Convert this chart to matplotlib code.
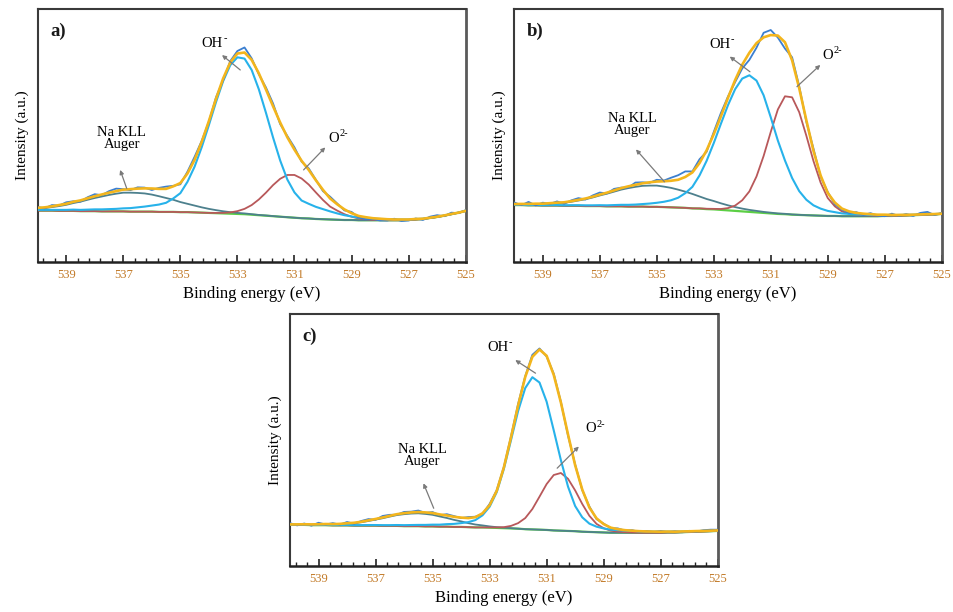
import numpy as np
import matplotlib
matplotlib.use("Agg")
import matplotlib.pyplot as plt
from matplotlib.ticker import FixedLocator

plt.rcParams['font.family'] = ['Liberation Serif', 'DejaVu Serif']
plt.rcParams['mathtext.fontset'] = 'stix'

# ---------------- data (binding energy grid, eV; intensities in a.u.) ----------------
energy = np.linspace(540.0, 525.0, 61)
major_ticks = [539, 537, 535, 533, 531, 529, 527, 525]
tick_labels = ["539", "537", "535", "533", "531", "529", "527", "525"]

# panel a
bg_a = [20.3, 20.3, 20.3, 20.2, 20.2, 20.2, 20.1, 20.1, 20.1, 20.0, 20.0, 20.0, 20.0,
        19.9, 19.9, 19.9, 19.9, 19.8, 19.8, 19.8, 19.7, 19.7, 19.6, 19.5, 19.4,
        19.3, 19.2, 19.1, 19.0, 18.9, 18.7, 18.5, 18.3, 18.1, 17.9, 17.7, 17.5,
        17.3, 17.2, 17.0, 16.9, 16.8, 16.7, 16.6, 16.6, 16.5, 16.5, 16.5, 16.5,
        16.5, 16.5, 16.5, 16.6, 16.8, 17.0, 17.4, 17.8, 18.3, 18.9, 19.5, 20.2]
na_a = [0.8, 1.0, 1.4, 1.9, 2.4, 3.1, 3.75, 4.5, 5.2, 5.9, 6.5, 7.0, 7.4,
        7.5, 7.4, 7.2, 6.75, 6.2, 5.5, 4.8, 4.0, 3.3, 2.7, 2.1, 1.6,
        1.2, 0.85, 0.6, 0.4, 0.3, 0.2, 0.1, 0.1, 0.05] + [0.0] * 27
oh_a = [0.3, 0.3, 0.3, 0.4, 0.4, 0.5, 0.5, 0.6, 0.7, 0.8, 0.9, 1.0, 1.2,
        1.4, 1.7, 2.0, 2.4, 2.9, 3.6, 5.3, 7.5, 12.0, 18.1, 25.9, 34.7,
        43.9, 52.3, 58.7, 61.9, 61.5, 57.2, 49.8, 40.7, 31.1, 22.2, 14.9, 10.0,
        7.0, 5.8, 4.8, 4.0, 3.2, 2.5, 1.9, 1.4, 1.0, 0.8, 0.6, 0.5,
        0.4, 0.3, 0.3, 0.2, 0.2, 0.1, 0.1, 0.1, 0.1, 0.1, 0.0, 0.0]
o2_a = [0.0] * 25 + [0.1, 0.2, 0.5, 1.1, 2.1, 3.8, 6.2, 9.1, 12.3, 15.0, 16.7, 16.9,
                     15.7, 13.4, 10.5, 7.6, 5.1, 3.6, 2.3, 1.3, 0.7, 0.4, 0.2, 0.1] + [0.0] * 12
raw_dev_a = [0.3, -0.4, 0.5, -0.2, 0.6, 0.2, -0.5, 0.4, 0.8, -0.3,
             0.6, 1.0, 0.2, -0.4, 0.5, 0.3, -0.6, 0.4, 0.9, 0.2,
             -0.5, 0.7, 1.2, 0.4, -0.3, 0.6, -0.8, 0.5, 1.0, 2.0,
             0.6, -0.4, 0.8, 1.1, -0.6, 0.5, 0.9, -0.3, 0.6, 0.2,
             -0.5, 0.7, 0.3, -0.4, 0.5, -0.6, -0.8, -0.3, -0.7, -0.5,
             0.3, -0.6, -0.4, 0.2, -0.5, 0.4, 0.6, -0.3, 0.5, -0.2, 0.3]

# panel b
bg_b = [22.5, 22.5, 22.4, 22.4, 22.3, 22.3, 22.3, 22.2, 22.2, 22.2, 22.1, 22.1, 22.1,
        22.0, 22.0, 22.0, 21.9, 21.9, 21.9, 21.8, 21.8, 21.7, 21.6, 21.5, 21.4,
        21.2, 21.1, 20.9, 20.8, 20.6, 20.4, 20.2, 20.0, 19.8, 19.6, 19.4, 19.2,
        19.0, 18.9, 18.7, 18.6, 18.5, 18.4, 18.3, 18.2, 18.2, 18.1, 18.1, 18.1,
        18.1, 18.1, 18.1, 18.2, 18.2, 18.3, 18.4, 18.5, 18.6, 18.7, 18.8, 19.0]
na_b = [0.3, 0.35, 0.45, 0.5, 0.6, 0.75, 0.95, 1.2, 1.6, 2.1, 2.7, 3.4, 4.2,
        5.0, 5.8, 6.6, 7.3, 7.8, 8.2, 8.4, 8.4, 8.1, 7.7, 7.1, 6.4,
        5.7, 4.8, 4.0, 3.3, 2.6, 2.0, 1.5, 1.1, 0.8, 0.6, 0.4, 0.3,
        0.2, 0.15, 0.1, 0.05] + [0.0] * 20
oh_b = [0.1, 0.1, 0.1, 0.15, 0.15, 0.2, 0.2, 0.2, 0.25, 0.25, 0.3, 0.3, 0.35,
        0.4, 0.5, 0.6, 0.7, 0.8, 1.0, 1.3, 1.6, 2.1, 2.8, 3.9, 5.8,
        8.5, 13.1, 19.1, 26.2, 34.0, 41.6, 48.1, 52.5, 54.0, 52.1, 46.5, 38.0,
        29.0, 21.2, 14.5, 9.4, 6.1, 4.0, 2.8, 2.0, 1.5, 1.1, 0.9, 0.7,
        0.6, 0.5, 0.4, 0.35, 0.3, 0.3, 0.25, 0.2, 0.2, 0.2, 0.15, 0.1]
o2_b = [0.0] * 26 + [0.1, 0.15, 0.2, 0.35, 0.9, 2.1, 4.4, 8.1, 14.2, 22.5, 32.2,
                     41.3, 46.6, 46.4, 40.6, 31.4, 21.5, 13.1, 7.1, 3.8, 1.9, 1.0, 0.6,
                     0.4, 0.3, 0.2, 0.15, 0.1] + [0.0] * 7
raw_dev_b = [0.6, -0.5, 0.8, -0.7, 0.4, -0.3, 0.5, -0.6, 0.3, 0.7,
             -0.4, 0.5, 0.8, -0.3, 0.6, 0.2, -0.5, 0.9, 0.4, -0.2,
             0.7, 0.3, 1.2, 1.8, 2.2, 0.4, 1.5, -0.6, 0.9, 1.3,
             0.5, -0.8, -1.5, -2.8, -1.8, 1.8, 2.0, -0.8, -2.5, 1.2,
             0.8, -0.6, 0.9, -0.5, 0.4, -0.7, -0.4, -0.6, 0.3, -0.5,
             0.4, -0.3, -0.6, 0.5, -0.4, 0.3, -0.5, 0.6, 0.9, -0.4, 0.3]

# panel c
bg_c = [16.3, 16.3, 16.3, 16.2, 16.2, 16.2, 16.1, 16.1, 16.1, 16.0, 16.0, 16.0, 16.0,
        15.9, 15.9, 15.9, 15.8, 15.8, 15.8, 15.7, 15.7, 15.6, 15.6, 15.5, 15.5,
        15.4, 15.3, 15.3, 15.2, 15.1, 15.0, 14.9, 14.8, 14.6, 14.5, 14.4, 14.3,
        14.1, 14.0, 13.9, 13.8, 13.6, 13.5, 13.4, 13.3, 13.2, 13.2, 13.2, 13.2,
        13.2, 13.2, 13.2, 13.2, 13.3, 13.3, 13.4, 13.5, 13.6, 13.7, 13.8, 13.9]
na_c = [0.1, 0.1, 0.15, 0.2, 0.25, 0.3, 0.35, 0.45, 0.65, 0.95, 1.35, 1.85, 2.4,
        3.05, 3.7, 4.3, 4.75, 5.0, 5.1, 4.95, 4.6, 4.05, 3.45, 2.8, 2.2,
        1.6, 1.15, 0.8, 0.5, 0.3, 0.2, 0.1] + [0.0] * 29
oh_c = [0.1, 0.1, 0.1, 0.1, 0.1, 0.15, 0.15, 0.15, 0.2, 0.2, 0.2, 0.25, 0.25,
        0.3, 0.3, 0.35, 0.4, 0.45, 0.5, 0.6, 0.7, 0.8, 1.0, 1.2, 1.5,
        2.0, 2.9, 4.8, 8.3, 14.2, 23.5, 35.0, 46.7, 56.0, 60.4, 58.4, 50.9,
        39.7, 28.0, 17.6, 10.0, 5.7, 3.3, 2.2, 1.6, 1.2, 1.0, 0.8, 0.7,
        0.6, 0.5, 0.45, 0.4, 0.35, 0.3, 0.3, 0.25, 0.25, 0.2, 0.2, 0.2]
o2_c = [0.0] * 28 + [0.1, 0.2, 0.4, 1.0, 2.2, 4.4, 8.1, 13.1, 18.2,
                     22.0, 22.9, 20.7, 16.2, 11.0, 6.4, 3.3, 1.7, 0.8, 0.4, 0.2, 0.1] + [0.0] * 12
raw_dev_c = [0.5, -0.4, 0.3, -0.5, 0.6, -0.2, 0.4, -0.3, 0.5, -0.4,
             0.3, 0.5, -0.3, 0.6, 0.4, -0.2, 0.5, 0.3, 0.6, -0.2,
             0.4, -0.3, 0.5, 0.3, -0.2, 0.4, 0.2, -0.3, 0.5, 0.3,
             0.2, 0.4, 0.6, 0.3, 0.8, 0.4, -0.3, 0.5, 0.2, -0.4,
             0.3, -0.2, 0.4, -0.3, 0.2, -0.2, 0.3, -0.2, 0.2, -0.3,
             0.2, -0.2, 0.3, -0.2, 0.2, -0.3, 0.2, -0.2, 0.3, 0.4, 0.3]

panel_labels = ["a)", "b)", "c)"]
# annotation anchors: text left/centre, arrow tail (on curve), arrow head (near text)
ann_a = {"oh": ((534.25, 86.2), (532.9, 75.9), (533.54, 81.8)),
         "o2": ((529.8, 49.0), (530.68, 36.4), (529.92, 45.3)),
         "na": ((537.05, 48.8), (536.88, 29.1), (537.11, 36.4))}
ann_b = {"oh": ((533.17, 86.1), (531.73, 75.2), (532.44, 81.2)),
         "o2": ((529.2, 81.5), (530.08, 69.3), (529.26, 77.9)),
         "na": ((535.87, 54.3), (534.73, 31.7), (535.73, 44.5))}
ann_c = {"oh": ((533.09, 86.8), (531.39, 76.5), (532.10, 81.7)),
         "o2": ((529.64, 54.4), (530.63, 38.8), (529.87, 47.4)),
         "na": ((535.36, 43.9), (534.96, 22.9), (535.32, 32.8))}

# ---------------- styling ----------------
C_RAW = '#3b7fd0'
C_ENV = '#f3b51c'
C_OH = '#27b2ea'
C_O2 = '#b8585a'
C_NA = '#4d808d'
C_BG = '#5ccf45'
C_TICK = '#c27a28'
C_FRAME = '#3a3a3a'
FS_ANN = 10.5

fig = plt.figure(figsize=(9.54, 6.12), dpi=100)
positions = [[0.0395, 0.5719, 0.4486, 0.4134],
             [0.5391, 0.5719, 0.4480, 0.4134],
             [0.3040, 0.0752, 0.4483, 0.4118]]

datasets = [(bg_a, na_a, oh_a, o2_a, raw_dev_a, ann_a),
            (bg_b, na_b, oh_b, o2_b, raw_dev_b, ann_b),
            (bg_c, na_c, oh_c, o2_c, raw_dev_c, ann_c)]


def label_with_sup(ax, xy, base, sup, base_width_pt):
    ax.text(xy[0], xy[1], base, fontsize=FS_ANN, ha='left', va='center', zorder=8)
    ax.annotate(sup, xy=xy, xycoords='data', xytext=(base_width_pt + 0.4, 3.5),
                textcoords='offset points', fontsize=7.5, ha='left', va='center',
                zorder=8)


for pos, (bg, na, oh, o2, dev, ann), lab in zip(positions, datasets, panel_labels):
    ax = fig.add_axes(pos)
    bg = np.array(bg)
    na = np.array(na)
    oh = np.array(oh)
    o2 = np.array(o2)
    envelope = bg + na + oh + o2
    raw = envelope + np.array(dev)

    ax.plot(energy, bg, color=C_BG, lw=1.6, zorder=2)
    ax.plot(energy, bg + na, color=C_NA, lw=1.3, zorder=3)
    ax.plot(energy, bg + o2, color=C_O2, lw=1.3, zorder=3)
    ax.plot(energy, bg + oh, color=C_OH, lw=1.5, zorder=4)
    ax.plot(energy, raw, color=C_RAW, lw=1.3, zorder=5)
    ax.plot(energy, envelope, color=C_ENV, lw=1.9, zorder=6)

    ax.set_xlim(540, 525)
    ax.set_ylim(0, 100)
    ax.xaxis.set_major_locator(FixedLocator(major_ticks))
    ax.set_xticklabels(tick_labels)
    ax.xaxis.set_minor_locator(FixedLocator(np.arange(525.0, 540.01, 0.4)))
    ax.tick_params(axis='x', which='major', direction='in', length=5, width=1.2,
                   color='#222222', labelsize=9, labelcolor=C_TICK, pad=5)
    ax.tick_params(axis='x', which='minor', direction='in', length=3, width=1.0,
                   color='#222222')
    ax.set_yticks([])
    for side in ['left', 'top']:
        ax.spines[side].set_color(C_FRAME)
        ax.spines[side].set_linewidth(1.5)
    ax.spines['right'].set_color('#5a5a5a')
    ax.spines['right'].set_linewidth(2.0)
    ax.spines['bottom'].set_color('#222222')
    ax.spines['bottom'].set_linewidth(1.8)

    ax.set_xlabel('Binding energy (eV)', fontsize=12, labelpad=4)
    ax.set_ylabel('Intensity (a.u.)', fontsize=11, labelpad=6)

    ax.text(0.03, 0.945, lab, transform=ax.transAxes, fontsize=13.5,
            fontweight='bold', va='top', ha='left', color='#1a1a1a')

    aprops = dict(arrowstyle='-|>', color='#7a7a7a', lw=0.9,
                  mutation_scale=6, shrinkA=0, shrinkB=0)
    (txy, tail, head) = ann['oh']
    label_with_sup(ax, txy, 'OH', '-', 1.444 * FS_ANN)
    ax.annotate('', xy=head, xytext=tail, arrowprops=aprops, zorder=8)
    (txy, tail, head) = ann['o2']
    label_with_sup(ax, txy, 'O', '2-', 0.722 * FS_ANN)
    ax.annotate('', xy=head, xytext=tail, arrowprops=aprops, zorder=8)
    (txy, tail, head) = ann['na']
    ax.text(txy[0], txy[1], 'Na KLL\nAuger', fontsize=FS_ANN, ha='center', va='center',
            linespacing=0.95, zorder=8)
    ax.annotate('', xy=head, xytext=tail, arrowprops=aprops, zorder=8)

fig.savefig('out.png', dpi=100)
